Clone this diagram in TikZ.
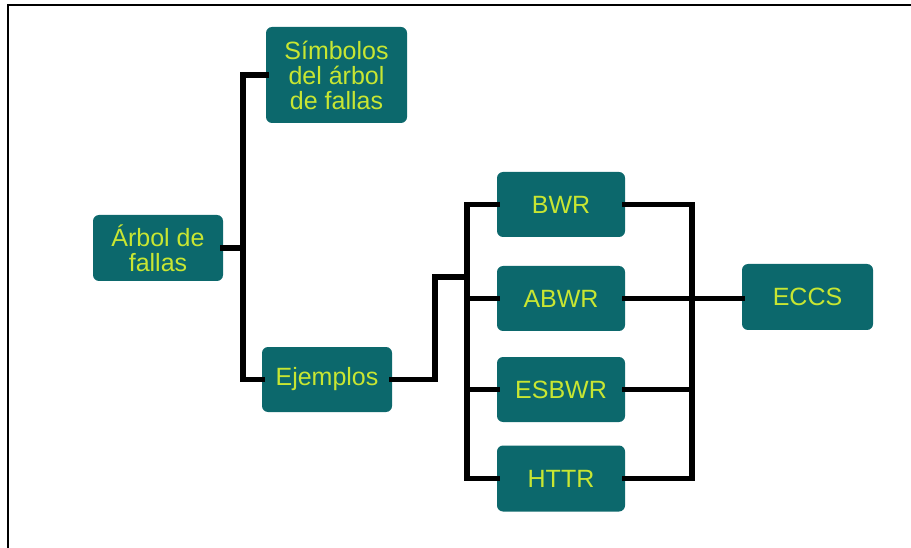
\documentclass[tikz,border=0pt]{standalone}
\usepackage{fontspec}
\setmainfont{Liberation Sans}
\definecolor{boxfill}{RGB}{12,104,108}
\definecolor{boxtext}{RGB}{200,230,50}
\begin{document}
\begin{tikzpicture}[x=1pt,y=-1pt,
  box/.style={draw=none, fill=boxfill, rounded corners=6pt, text=boxtext, align=center,
    inner sep=0pt, font=\fontsize{25}{25}\selectfont},
  conn/.style={draw=black, line width=5.5pt, line cap=rect},
  frame/.style={draw=black, line width=2.5pt}]
\useasboundingbox (0,0) rectangle (911,548);
\coordinate (fa) at (8,548);
\coordinate (fb) at (8,5);
\coordinate (fc) at (911,5);
\draw[frame] (fa) -- (fb) -- (fc);
\coordinate (t) at (243,0);
\coordinate (k1) at (435,277);
\coordinate (lbus) at (467,0);
\coordinate (rbus) at (692,0);
\node[box, minimum width=141pt, minimum height=96pt] (sim) at (336.5,75) {Símbolos\\del árbol\\de fallas};
\node[box, minimum width=130pt, minimum height=66pt] (arb) at (158,248) {Árbol de\\fallas};
\node[box, minimum width=130pt, minimum height=65pt] (ej) at (327,379.5) {Ejemplos};
\node[box, minimum width=128pt, minimum height=65pt] (bwr) at (561,204.5) {BWR};
\node[box, minimum width=128pt, minimum height=65pt] (abwr) at (561,298.5) {ABWR};
\node[box, minimum width=128pt, minimum height=65pt] (esbwr) at (561,389.5) {ESBWR};
\node[box, minimum width=128pt, minimum height=66pt] (httr) at (561,478.5) {HTTR};
\node[box, minimum width=131pt, minimum height=66pt] (eccs) at (807.5,297) {ECCS};
\draw[conn] (sim.west) -- (sim.west -| t) -- (t |- ej.west) -- (ej.west);
\draw[conn] (arb.east) -- (arb.east -| t);
\draw[conn] (ej.east) -- (ej.east -| k1) -- (k1) -- (k1 -| lbus);
\draw[conn] (bwr.west) -- (bwr.west -| lbus) -- (lbus |- httr.west) -- (httr.west);
\draw[conn] (abwr.west -| lbus) -- (abwr.west);
\draw[conn] (esbwr.west -| lbus) -- (esbwr.west);
\draw[conn] (bwr.east) -- (bwr.east -| rbus) -- (rbus |- httr.east) -- (httr.east);
\draw[conn] (esbwr.east) -- (esbwr.east -| rbus);
\draw[conn] (abwr.east) -- (abwr.east -| eccs.west);
\end{tikzpicture}
\end{document}
